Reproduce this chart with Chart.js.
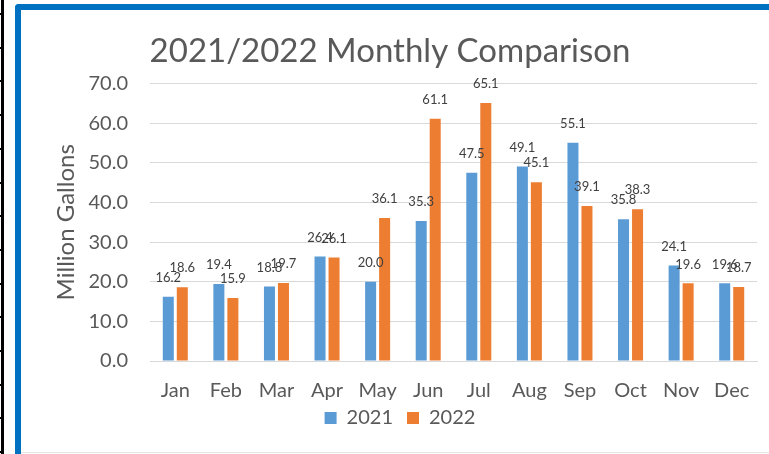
<!DOCTYPE html>
<html>
<head>
<meta charset="utf-8">
<script src="https://cdn.jsdelivr.net/npm/chart.js@4.4.0/dist/chart.umd.min.js"></script>
<style>
    body { margin: 0; width: 769px; height: 454px; overflow: hidden; background: #fff; position: relative; }
    #regla { position: absolute; left: 1px; top: 0; width: 3px; height: 454px; background: #000; }
    .marca { position: absolute; left: 0; width: 4px; height: 2px; background: #000; }
    #marco { position: absolute; left: 15px; top: 4px; width: 800px; height: 500px;
             border-left: 6px solid #0070C0; border-top: 6px solid #0070C0; border-top-left-radius: 4px; }
    #lineaInferior { position: absolute; left: 21px; top: 452px; width: 748px; height: 1px; background: #e6e6e6; }
    #contenedor { position: absolute; left: 43px; top: 10px; width: 726px; height: 442px; }
</style>
</head>
<body>
<div id="regla"></div>
<div id="marco"></div>
<div id="lineaInferior"></div>
<div id="contenedor"><canvas id="myBarChart"></canvas></div>
<script>
// Datos del grafico
var meses = ['Jan', 'Feb', 'Mar', 'Apr', 'May', 'Jun', 'Jul', 'Aug', 'Sep', 'Oct', 'Nov', 'Dec'];
var datos2021 = [16.2, 19.4, 18.8, 26.4, 20.0, 35.3, 47.5, 49.1, 55.1, 35.8, 24.1, 19.6];
var datos2022 = [18.6, 15.9, 19.7, 26.1, 36.1, 61.1, 65.1, 45.1, 39.1, 38.3, 19.6, 18.7];
var series = ['2021', '2022'];
var ejeYmin = 0;
var ejeYmax = 70;
var ejeYpaso = 10;

var gris = '#595959';
var fuente = 'Lato';

// marcas negras del borde izquierdo (solo decoracion)
for (var m = 0; m < 14; m++) {
    var marca = document.createElement('div');
    marca.className = 'marca';
    marca.style.top = Math.round(13 + m * 33.7) + 'px';
    document.body.appendChild(marca);
}

// Plugin para escribir el valor sobre cada barra
var etiquetasPlugin = {
    id: 'etiquetas',
    afterDatasetsDraw: function (chart) {
        var ctx = chart.ctx;
        ctx.save();
        ctx.font = '13px ' + fuente;
        ctx.fillStyle = '#404040';
        ctx.textAlign = 'center';
        ctx.textBaseline = 'middle';
        chart.data.datasets.forEach(function (ds, d) {
            chart.getDatasetMeta(d).data.forEach(function (barra, i) {
                ctx.fillText(ds.data[i].toFixed(1), barra.x, barra.y - 19);
            });
        });
        ctx.restore();
    }
};

// Ajuste fino: subir la leyenda y correr un poco el titulo a la izquierda
var ajustePlugin = {
    id: 'ajuste',
    afterLayout: function (chart) {
        chart.legend.top -= 9;
        chart.legend.bottom -= 9;
        chart.titleBlock.left -= 10;
        chart.titleBlock.right -= 10;
    }
};

function dibujar() {
    var lienzo = document.getElementById('myBarChart');
    new Chart(lienzo, {
        type: 'bar',
        data: {
            labels: meses,
            datasets: [
                { label: series[0], data: datos2021, backgroundColor: '#5B9BD5', barPercentage: 0.786, categoryPercentage: 0.554 },
                { label: series[1], data: datos2022, backgroundColor: '#ED7D31', barPercentage: 0.786, categoryPercentage: 0.554 }
            ]
        },
        options: {
            responsive: true,
            maintainAspectRatio: false,
            animation: false,
            layout: { padding: { left: 0, right: 12, top: 0, bottom: 5 } },
            plugins: {
                title: {
                    display: true,
                    text: '2021/2022 Monthly Comparison',
                    color: gris,
                    font: { family: fuente, size: 33, weight: 'normal' },
                    padding: { top: 22, bottom: 12 }
                },
                legend: {
                    position: 'bottom',
                    labels: { boxWidth: 12, boxHeight: 12, color: gris, padding: 14,
                              font: { family: fuente, size: 20 } }
                },
                tooltip: { enabled: false }
            },
            scales: {
                x: {
                    grid: { display: false, drawTicks: false },
                    border: { color: '#d9d9d9' },
                    ticks: { color: gris, padding: 18, font: { family: fuente, size: 20 } },
                    afterFit: function (escala) { escala.height = 42; }
                },
                y: {
                    min: ejeYmin,
                    max: ejeYmax,
                    grid: { color: '#d9d9d9', drawTicks: false },
                    border: { display: false },
                    ticks: {
                        stepSize: ejeYpaso,
                        padding: 22,
                        color: gris,
                        font: { family: fuente, size: 20 },
                        callback: function (v) { return v.toFixed(1); }
                    },
                    title: {
                        display: true,
                        text: 'Million Gallons',
                        color: gris,
                        font: { family: fuente, size: 24 },
                        padding: { top: 9, bottom: 0 }
                    },
                    afterFit: function (escala) { escala.width = 107; }
                }
            }
        },
        plugins: [etiquetasPlugin, ajustePlugin]
    });
}

document.fonts.load('20px ' + fuente).then(dibujar, dibujar);
</script>
</body>
</html>
